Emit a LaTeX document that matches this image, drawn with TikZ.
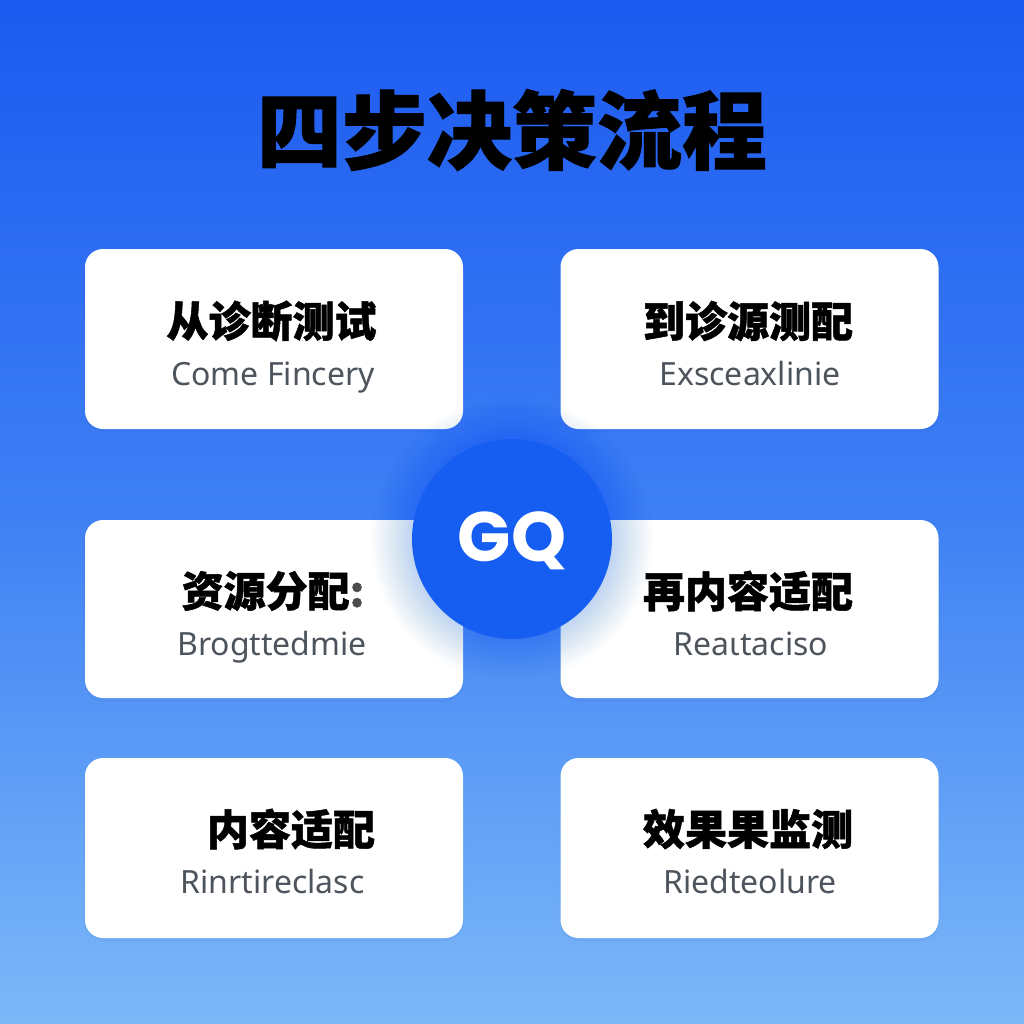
\documentclass[tikz,border=0pt]{standalone}
\usepackage{fontspec}
\newfontfamily\cjk{Noto Sans CJK SC}[BoldFeatures={FakeBold=1.2}]
\newfontfamily\lat{Noto Sans}
\newfontfamily\gqfont{Poppins}
\definecolor{bgtop}{RGB}{28,90,240}
\definecolor{bgmid}{RGB}{62,128,244}
\definecolor{bgbot}{RGB}{124,184,248}
\definecolor{circ}{RGB}{22,94,242}
\definecolor{subgray}{RGB}{78,84,92}
\tikzset{
  card/.style={fill=white, rounded corners=18pt, inner sep=0pt, minimum width=378pt, minimum height=180pt},
  cardshadow/.style={fill=black!60!blue, opacity=0.03, rounded corners=20pt},
  cntitle/.style={font=\cjk\bfseries\fontsize{42}{42}\selectfont, text=black, inner sep=0pt},
  subtitle/.style={font=\lat\fontsize{32}{32}\selectfont, text=subgray, inner sep=0pt, anchor=base},
}
\begin{document}
\begin{tikzpicture}[x=1pt,y=-1pt]
\useasboundingbox (0,0) rectangle (1024,1024);
\shade[top color=bgtop, bottom color=bgbot, middle color=bgmid] (0,0) rectangle (1024,1024);
% title
\node[font=\cjk\bfseries\fontsize{85}{85}\selectfont, text=black, inner sep=0pt] (title) at (512,130) {四步决策流程};
% card shadows
\foreach \cx/\cy in {274/339, 749.5/339, 274/609, 749.5/609, 274/848, 749.5/848}{
  \fill[cardshadow] (\cx-190,\cy-88) rectangle (\cx+190,\cy+93);
}
% cards
\node[card] (c1) at (274,339) {};
\node[card] (c2) at (749.5,339) {};
\node[card, minimum height=178pt] (c3) at (274,609) {};
\node[card, minimum height=178pt] (c4) at (749.5,609) {};
\node[card] (c5) at (274,848) {};
\node[card] (c6) at (749.5,848) {};
% card texts
\node[cntitle] (t1) at (271.5,321) {从诊断测试};
\node[subtitle] (s1) at (273,385) {Come Fincery};
\node[cntitle] (t2) at (748,321) {到诊源测配};
\node[subtitle] (s2) at (750,385) {Exsceaxlinie};
\node[cntitle] (t3) at (273,591) {资源分配{\color{black!70}:}};
\node[subtitle] (s3) at (272,655) {Brogttedmie};
\node[cntitle] (t4) at (748,591) {再内容适配};
\node[subtitle] (s4) at (751,655) {Reaιtaciso};
\node[cntitle] (t5) at (291,829) {内容适配};
\node[subtitle] (s5) at (272.5,893) {Rinrtireclasc};
\node[cntitle] (t6) at (748,829) {效果果监测};
\node[subtitle] (s6) at (750,893) {Riedteolure};
% circle glow
\foreach \r in {101,103,...,141}{
  \fill[circ, opacity=0.012] (512,539) circle (\r);
}
\node[circle, fill=circ, minimum size=200pt, inner sep=0pt] (hub) at (512,539) {};
\node[font=\gqfont\bfseries\fontsize{70}{70}\selectfont, text=white, inner sep=0pt] (gq) at (512,541) {GQ};
\end{tikzpicture}
\end{document}
